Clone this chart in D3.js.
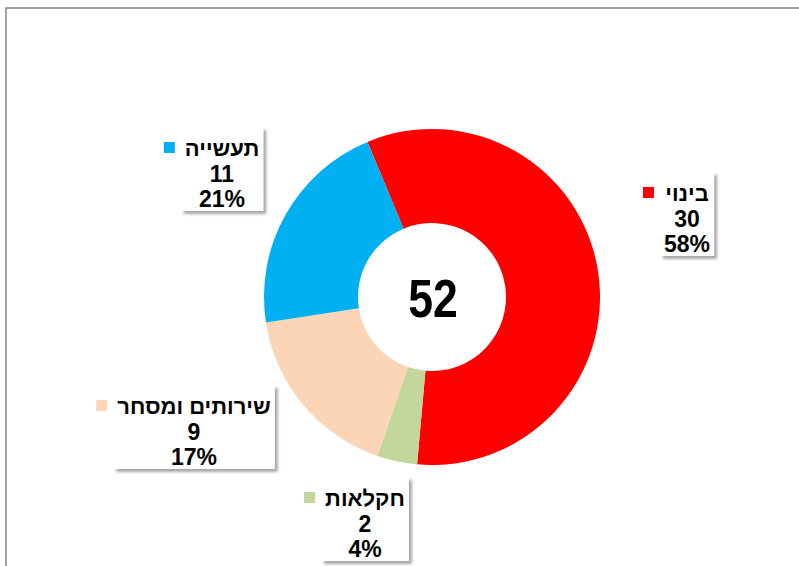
<!DOCTYPE html>
<html lang="he">
<head>
<meta charset="utf-8">
<script src="https://cdn.jsdelivr.net/npm/d3@7"></script>
<style>
  body { margin: 0; background: #fff; }
  svg { display: block; font-family: "Liberation Sans", Arial, sans-serif; }
</style>
</head>
<body>
<div id="chart"></div>
<script>
// data
const categories = ["בינוי", "חקלאות", "שירותים ומסחר", "תעשייה"];
const counts = [30, 2, 9, 11];
const colors = ["#ff0000", "#c3d69b", "#fbd5b5", "#00b0f0"];

// where each label box sits (center x, top y) - placed by hand like the original
const labelLayout = [
  { cx: 687, top: 172 },
  { cx: 365, top: 477 },
  { cx: 194, top: 385 },
  { cx: 222, top: 127 }
];

const width = 799;
const height = 566;
const cx = 432, cy = 297;
const outerR = 168, innerR = 74;

const total = d3.sum(counts);
const data = categories.map((c, i) => ({ name: c, value: counts[i], color: colors[i] }));

const svg = d3.select("#chart")
  .append("svg")
  .attr("width", width)
  .attr("height", height);

// soft shadow for label boxes
const defs = svg.append("defs");
const f = defs.append("filter").attr("id", "shadow")
  .attr("x", "-20%").attr("y", "-20%").attr("width", "150%").attr("height", "150%");
f.append("feDropShadow")
  .attr("dx", 3).attr("dy", 3).attr("stdDeviation", 1.8)
  .attr("flood-color", "#000").attr("flood-opacity", 0.35);

// outer frame (only top and left are visible)
svg.append("rect")
  .attr("x", 6).attr("y", 8)
  .attr("width", 900).attr("height", 900)
  .attr("fill", "none")
  .attr("stroke", "#8a8a8a")
  .attr("stroke-width", 1.6);

const pie = d3.pie()
  .sort(null)
  .value(d => d.value)
  .startAngle(-22.6 * Math.PI / 180)
  .endAngle((360 - 22.6) * Math.PI / 180);

const arc = d3.arc().innerRadius(innerR).outerRadius(outerR);

const g = svg.append("g").attr("transform", `translate(${cx},${cy})`);

g.selectAll("path")
  .data(pie(data))
  .enter()
  .append("path")
  .attr("d", arc)
  .attr("fill", d => d.data.color);

// total in the hole (squeezed a bit, the original face is condensed)
g.append("text")
  .attr("transform", "translate(1,2) scale(0.84,1)")
  .attr("text-anchor", "middle")
  .attr("dominant-baseline", "central")
  .style("font-weight", "bold")
  .style("font-size", "53px")
  .attr("fill", "#000")
  .text(total);

// labels
const fmtPct = v => Math.round(v / total * 100) + "%";

data.forEach((d, i) => {
  const pos = labelLayout[i];
  const lg = svg.append("g");
  const box = lg.append("rect").attr("fill", "#fff").attr("filter", "url(#shadow)");
  const lines = [d.name, String(d.value), fmtPct(d.value)];
  const texts = lg.selectAll("text")
    .data(lines)
    .enter()
    .append("text")
    .attr("x", pos.cx)
    .attr("y", (t, j) => pos.top + 21 + j * 25.5)
    .attr("text-anchor", "middle")
    .attr("dominant-baseline", "central")
    .attr("direction", "rtl")
    .style("font-weight", "bold")
    .style("font-size", (t, j) => j === 0 ? "22px" : "23px")
    .attr("fill", "#000")
    .text(t => t);

  let w = 0;
  texts.each(function() { w = Math.max(w, this.getComputedTextLength()); });
  const bw = w + 8;
  const left = pos.cx - bw / 2;
  box.attr("x", left).attr("y", pos.top).attr("width", bw).attr("height", 84);

  lg.append("rect")
    .attr("x", left - 17).attr("y", pos.top + 15)
    .attr("width", 11).attr("height", 11)
    .attr("fill", d.color);
});
</script>
</body>
</html>
